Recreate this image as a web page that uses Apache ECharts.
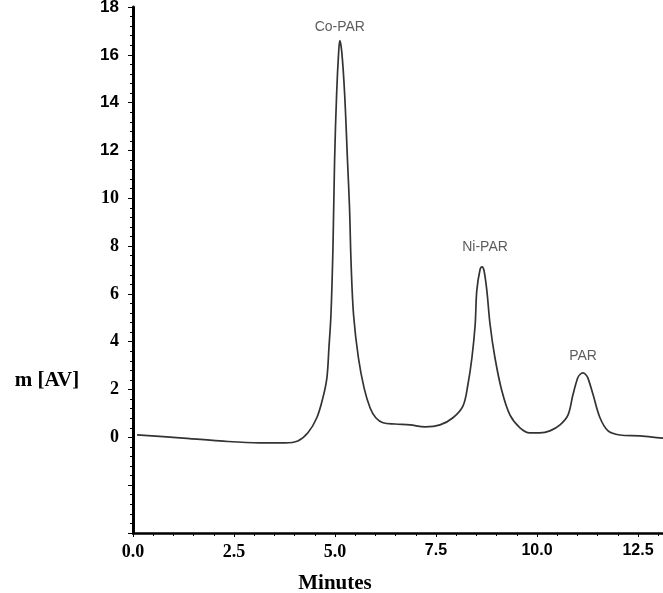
<!DOCTYPE html>
<html>
<head>
<meta charset="utf-8">
<script src="https://cdn.jsdelivr.net/npm/echarts@6/dist/echarts.min.js"></script>
<style>
  html, body { margin: 0; padding: 0; background: #ffffff; }
  #chart { width: 663px; height: 593px; }
</style>
</head>
<body>
<div id="chart"></div>
<script>
// Chromatogram trace: retention time (min) and detector response (mAV)
const times = [0.10, 1.16, 2.15, 3.14, 3.76, 4.08, 4.33, 4.55, 4.70, 4.80, 4.85, 4.90, 4.95, 4.99, 5.04,
  5.09, 5.12, 5.17, 5.24, 5.31, 5.36, 5.40, 5.46, 5.58, 5.72, 5.87, 6.01, 6.19, 6.49, 6.86,
  7.23, 7.60, 7.92, 8.17, 8.29, 8.39, 8.47, 8.51, 8.59, 8.64, 8.69, 8.76, 8.84, 8.96, 9.13,
  9.33, 9.58, 9.82, 10.07, 10.32, 10.57, 10.77, 10.89, 11.01, 11.07, 11.14, 11.20, 11.26, 11.39, 11.56,
  11.76, 12.05, 12.55, 13.04, 13.12];
const signal = [0.10, -0.02, -0.15, -0.23, -0.23, -0.15, 0.19, 0.82, 1.65, 2.49, 3.74, 5.12, 7.93, 11.57, 14.33,
  16.09, 16.59, 16.09, 14.33, 11.57, 9.60, 7.22, 5.12, 3.33, 2.07, 1.23, 0.82, 0.61, 0.56, 0.52,
  0.44, 0.52, 0.82, 1.32, 2.20, 3.33, 4.71, 6.13, 7.01, 7.13, 6.97, 6.13, 4.71, 3.33, 1.95,
  0.94, 0.40, 0.19, 0.19, 0.27, 0.52, 0.94, 1.78, 2.49, 2.64, 2.70, 2.64, 2.49, 1.78, 0.82,
  0.27, 0.10, 0.06, -0.02, -0.03];

// Identified peaks
const peakNames = ['Co-PAR', 'Ni-PAR', 'PAR'];
const peakTimes = [5.12, 8.64, 11.14];
const peakHeights = [16.59, 7.13, 2.70];

// Tick labels (the first group is set in a serif face, the second in a sans face)
const xTickLabelsSerif = ['0.0', '2.5', '5.0'];
const xTickLabelsSans = ['7.5', '10.0', '12.5'];
const yTickLabelsSerif = ['0', '2', '4', '6', '8', '10'];
const yTickLabelsSans = ['12', '14', '16', '18'];

const chart = echarts.init(document.getElementById('chart'), null, { renderer: 'canvas' });

const traceData = times.map((t, i) => [t, signal[i]]);
const peakLabelGap = [7, 13, 10];
const peakLabelShift = [0, 3, 0];
const peakData = peakNames.map((n, i) => ({
  name: n,
  value: [peakTimes[i], peakHeights[i]],
  label: { distance: peakLabelGap[i], offset: [peakLabelShift[i], 0] }
}));

function labelFrom(list) {
  return function (v) {
    const lab = list.find(s => Math.abs(parseFloat(s) - Number(v)) < 1e-6);
    return lab || '';
  };
}

const X_RANGE = { min: 0, max: 13.12, interval: 2.5 };
const Y_RANGE = { min: -4, max: 18, interval: 2 };

function xAxisDef(list, family, size, withLine) {
  return Object.assign({
    type: 'value',
    position: 'bottom',
    axisLine: { show: withLine, onZero: false, lineStyle: { color: '#000', width: 2.5 } },
    axisTick: { show: withLine, length: 4, lineStyle: { color: '#000', width: 1 } },
    minorTick: { show: withLine, splitNumber: 5, length: 3, lineStyle: { color: '#000', width: 1 } },
    splitLine: { show: false },
    axisLabel: {
      margin: 10,
      showMaxLabel: false,
      color: '#000',
      fontFamily: family,
      fontWeight: 'bold',
      fontSize: size,
      formatter: labelFrom(list)
    }
  }, X_RANGE);
}

function yAxisDef(list, family, size, withLine) {
  return Object.assign({
    type: 'value',
    position: 'left',
    axisLine: { show: withLine, onZero: false, lineStyle: { color: '#000', width: 3 } },
    axisTick: { show: withLine, length: 5, lineStyle: { color: '#000', width: 1 } },
    minorTick: { show: withLine, splitNumber: 5, length: 3, lineStyle: { color: '#000', width: 1 } },
    splitLine: { show: false },
    axisLabel: {
      margin: 14,
      color: '#000',
      fontFamily: family,
      fontWeight: 'bold',
      fontSize: size,
      formatter: labelFrom(list)
    }
  }, Y_RANGE);
}

chart.setOption({
  animation: false,
  backgroundColor: '#ffffff',
  grid: { left: 133, right: 0, top: 7, bottom: 60, containLabel: false, outerBoundsMode: 'none' },
  xAxis: [
    xAxisDef(xTickLabelsSerif, 'Liberation Serif', 18, true),
    xAxisDef(xTickLabelsSans, 'Liberation Sans', 16, false)
  ],
  yAxis: [
    yAxisDef(yTickLabelsSerif, 'Liberation Serif', 18, true),
    yAxisDef(yTickLabelsSans, 'Liberation Sans', 17, false)
  ],
  series: [
    {
      type: 'line',
      xAxisIndex: 0,
      yAxisIndex: 0,
      data: traceData,
      showSymbol: false,
      smooth: 0.35,
      lineStyle: { color: '#333333', width: 1.7 },
      silent: true
    },
    {
      type: 'scatter',
      xAxisIndex: 0,
      yAxisIndex: 0,
      data: peakData,
      symbolSize: 0,
      silent: true,
      label: {
        show: true,
        position: 'top',
        formatter: '{b}',
        fontFamily: 'Liberation Sans',
        fontSize: 14,
        color: '#333333'
      }
    }
  ],
  graphic: [
    {
      type: 'text',
      x: 47, y: 381,
      style: {
        text: 'm [AV]',
        font: "bold 21px 'Liberation Serif', serif",
        fill: '#000',
        textAlign: 'center',
        textVerticalAlign: 'middle'
      }
    },
    {
      type: 'text',
      x: 335, y: 584,
      style: {
        text: 'Minutes',
        font: "bold 21px 'Liberation Serif', serif",
        fill: '#000',
        textAlign: 'center',
        textVerticalAlign: 'middle'
      }
    }
  ]
});
</script>
</body>
</html>
